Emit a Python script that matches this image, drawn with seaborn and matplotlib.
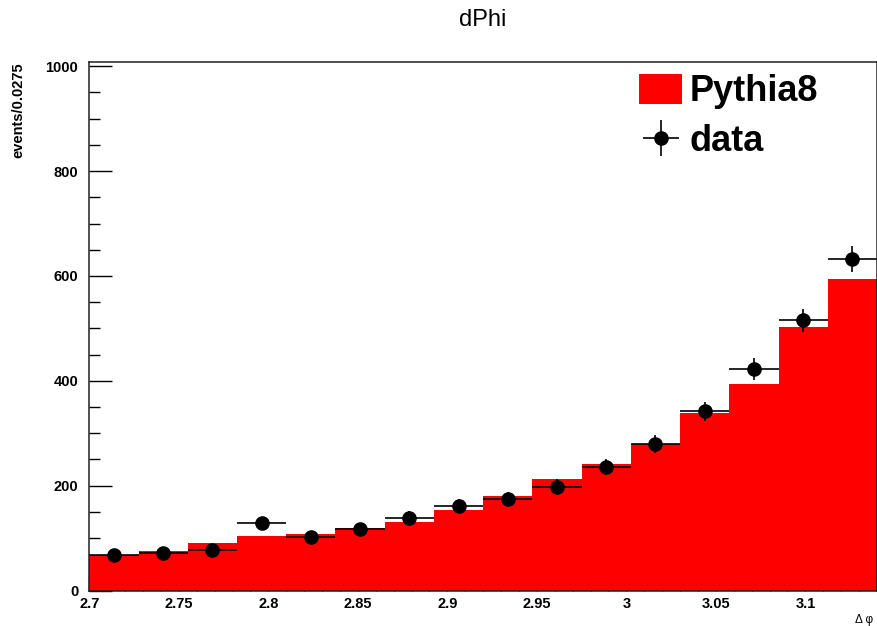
import numpy as np
import pandas as pd
import matplotlib
matplotlib.use("Agg")
import matplotlib.pyplot as plt
from matplotlib.patches import Patch
from matplotlib.ticker import MultipleLocator
import seaborn as sns

# Delta-phi distribution: Pythia8 prediction vs. measured data
bin_lo = 2.7
bin_width = 0.0275
n_bins = 16
pythia8 = [68, 76, 90, 104, 107, 119, 131, 154, 181, 212, 242, 279, 338, 393, 503, 594]
data = [68, 72, 78, 128, 102, 117, 139, 161, 175, 198, 236, 279, 342, 422, 515, 632]
y_ticks = [0, 200, 400, 600, 800, 1000]
x_ticks = [2.7, 2.75, 2.8, 2.85, 2.9, 2.95, 3.0, 3.05, 3.1]
x_tick_labels = ["2.7", "2.75", "2.8", "2.85", "2.9", "2.95", "3", "3.05", "3.1"]

edges = [bin_lo + bin_width * i for i in range(n_bins + 1)]
centers = [0.5 * (edges[i] + edges[i + 1]) for i in range(n_bins)]
df = pd.DataFrame({"dphi": centers, "pythia8": pythia8, "data": data})

sns.set_style("ticks")
plt.rcParams["font.family"] = ["Liberation Sans", "DejaVu Sans"]
plt.rcParams["text.color"] = "black"
plt.rcParams["xtick.color"] = "black"
plt.rcParams["ytick.color"] = "black"
plt.rcParams["axes.labelcolor"] = "black"

fig = plt.figure(figsize=(8.78, 6.26), dpi=100)
ax = fig.add_axes([89.3 / 878, 35.5 / 626, (877 - 89.3) / 878, (590.5 - 61.5) / 626])

sns.histplot(data=df, x="dphi", weights="pythia8", bins=edges, ax=ax,
             color="#ff0000", alpha=1.0, edgecolor="none", linewidth=0)

ax.errorbar(df["dphi"], df["data"], xerr=bin_width / 2, yerr=np.sqrt(df["data"]),
            fmt="o", color="black", markersize=9.5, elinewidth=1.2, capsize=0)

ax.set_xlim(edges[0], edges[-1])
ax.set_ylim(0, 1009)
ax.set_xlabel("")
ax.set_ylabel("")

ax.set_yticks(y_ticks)
ax.set_yticklabels([str(v) for v in y_ticks], fontweight="bold", fontsize=10.5)
ax.yaxis.set_minor_locator(MultipleLocator(50))
ax.set_xticks(x_ticks)
ax.set_xticklabels(x_tick_labels, fontweight="bold", fontsize=10.5)
ax.xaxis.set_minor_locator(MultipleLocator(0.01))

ax.tick_params(axis="y", which="major", direction="in", length=16.5, width=1.0, pad=8)
ax.tick_params(axis="y", which="minor", direction="in", length=8, width=1.0)
ax.tick_params(axis="x", which="major", direction="in", length=11.5, width=1.0, pad=5)
ax.tick_params(axis="x", which="minor", direction="in", length=5.8, width=1.0)
for s in ax.spines.values():
    s.set_visible(True)
    s.set_linewidth(1.1)
    s.set_color("#202020")

fig.text(483 / 878, 1 - 20 / 626, "dPhi", ha="center", va="center", fontsize=17)
fig.text(18.5 / 878, 1 - 62 / 626, "events/0.0275", rotation=90, ha="center", va="top",
         fontsize=10.5, fontweight="bold")
fig.text(873 / 878, 1 - 620 / 626, "Δ φ", ha="right", va="center", fontsize=8.5)

handles = [Patch(facecolor="#ff0000", edgecolor="none"),
           ax.containers[-1]]
leg = ax.legend(handles, ["Pythia8", "data"], loc="upper left",
                bbox_to_anchor=(639 / 878, 1 - 74 / 626), bbox_transform=fig.transFigure,
                frameon=False, borderpad=0, borderaxespad=0,
                prop={"size": 26, "weight": "bold"},
                handlelength=1.2, handleheight=0.9, handletextpad=0.2, labelspacing=0.4)

fig.savefig("out.png", dpi=100)
